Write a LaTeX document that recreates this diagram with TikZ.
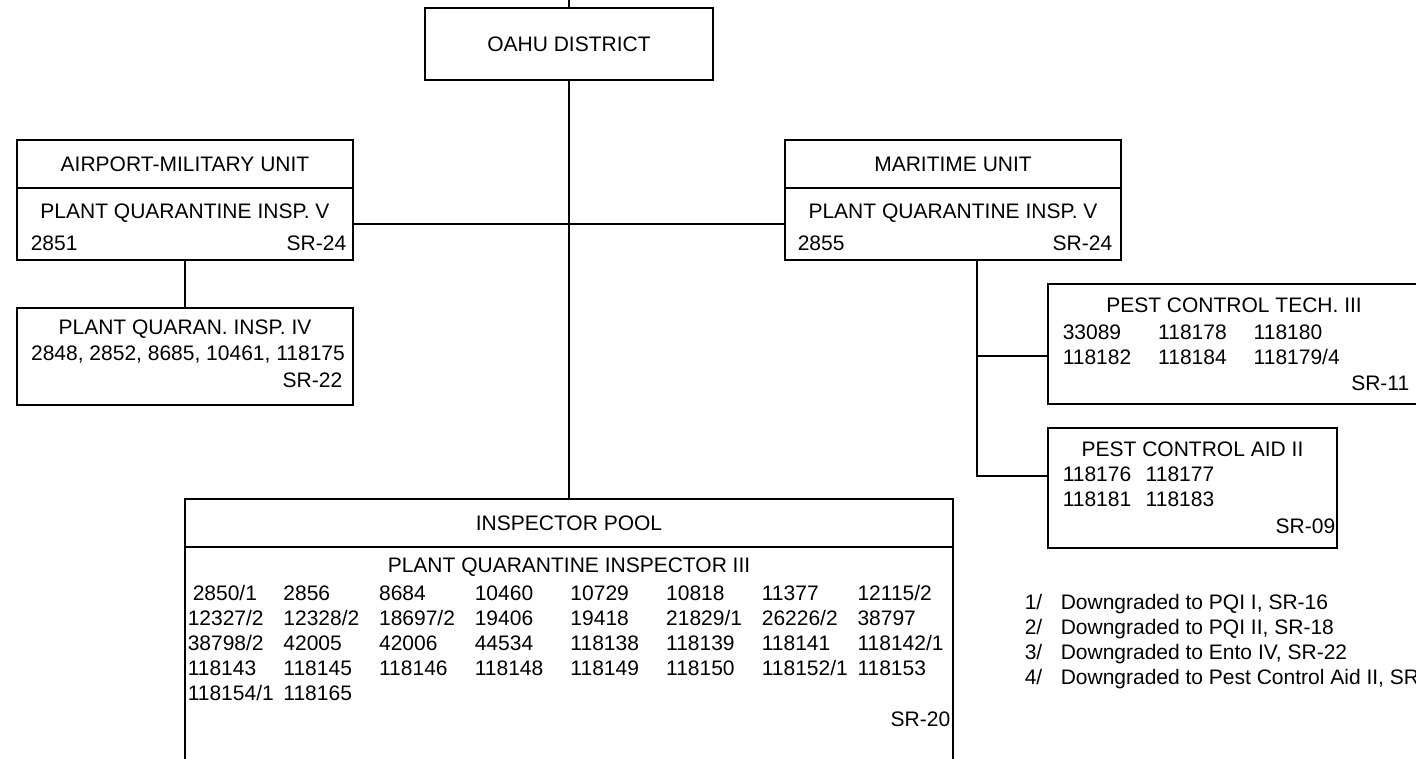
\documentclass[tikz,border=0pt]{standalone}
\usepackage{fontspec}
\setmainfont{Liberation Sans}
\usepackage{array}
\usetikzlibrary{positioning}

\newcommand{\orgfont}{\fontsize{21}{25}\selectfont}

\tikzset{
  unitbox/.style={rectangle, draw, line width=1.5pt, inner sep=0pt, font=\orgfont},
  label txt/.style={inner sep=0pt, font=\orgfont},
}

\begin{document}
\begin{tikzpicture}[x=1pt, y=-1pt, line width=1.5pt]

\useasboundingbox (0,0) rectangle (1416,758);
\fill[white] (0,0) rectangle (1416,758);
\clip (0,0) rectangle (1416,758);

% district
\node[unitbox, minimum width=288, minimum height=72] (oahu) at (569,44) {OAHU DISTRICT};
\coordinate (top) at (569,0);

% airport-military unit
\node[unitbox, minimum width=336, minimum height=48] (airhd) at (185,164) {AIRPORT-MILITARY UNIT};
\node[unitbox, minimum width=336, minimum height=72] (airpos) at (185,224) {};
    \node[label txt, anchor=base] (airtitle) at (185,218) {PLANT QUARANTINE INSP. V};
    \node[label txt, anchor=base west] (airno) at (30,250) {2851};
    \node[label txt, anchor=base east] (airsr) at (347,250) {SR-24};

\node[unitbox, minimum width=336, minimum height=97] (pqi4) at (185,356.5) {};
    \node[label txt, anchor=base] (pqi4title) at (185,334) {PLANT QUARAN. INSP. IV};
    \node[label txt, anchor=base] (pqi4no) at (188,360) {2848, 2852, 8685, 10461, 118175};
    \node[label txt, anchor=base east] (pqi4sr) at (343,387) {SR-22};

% maritime unit
\node[unitbox, minimum width=336, minimum height=48] (marhd) at (953,164) {MARITIME UNIT};
\node[unitbox, minimum width=336, minimum height=72] (marpos) at (953,224) {};
    \node[label txt, anchor=base] (martitle) at (953,218) {PLANT QUARANTINE INSP. V};
    \node[label txt, anchor=base west] (marno) at (797,250) {2855};
    \node[label txt, anchor=base east] (marsr) at (1113,250) {SR-24};

\node[unitbox, minimum width=372, minimum height=120] (pct) at (1234,344) {};
    \node[label txt, anchor=base] (pcttitle) at (1234,312) {PEST CONTROL TECH. III};
    \node[label txt, anchor=base west] (pctno) at (1062,339)
      {\begin{tabular}[t]{@{}p{95.5pt}@{}p{95.5pt}@{}l@{}}
        33089 & 118178 & 118180\\
        118182 & 118184 & 118179/4
      \end{tabular}};
    \node[label txt, anchor=base east] (pctsr) at (1410,390) {SR-11};

\node[unitbox, minimum width=289, minimum height=120] (pca) at (1192.5,488) {};
    \node[label txt, anchor=base] (pcatitle) at (1192.5,456) {PEST CONTROL AID II};
    \node[label txt, anchor=base west] (pcano) at (1062,481)
      {\begin{tabular}[t]{@{}p{83pt}@{}l@{}}
        118176 & 118177\\
        118181 & 118183
      \end{tabular}};
    \node[label txt, anchor=base east] (pcasr) at (1336,533) {SR-09};

% inspector pool
\node[unitbox, minimum width=768, minimum height=48] (poolhd) at (569,523) {INSPECTOR POOL};
\node[unitbox, minimum width=768, minimum height=253] (poolpos) at (569,673.5) {};
    \node[label txt, anchor=base] (pooltitle) at (569,572) {PLANT QUARANTINE INSPECTOR III};
    \node[label txt, anchor=base west] (poolno) at (187,600)
      {\begin{tabular}[t]{@{}*{7}{p{95.7pt}@{}}l@{}}
        \hspace*{5pt}2850/1 & 2856 & 8684 & 10460 & 10729 & 10818 & 11377 & 12115/2\\
        12327/2 & 12328/2 & 18697/2 & 19406 & 19418 & 21829/1 & 26226/2 & 38797\\
        38798/2 & 42005 & 42006 & 44534 & 118138 & 118139 & 118141 & 118142/1\\
        118143 & 118145 & 118146 & 118148 & 118149 & 118150 & 118152/1 & 118153\\
        118154/1 & 118165
      \end{tabular}};
    \node[label txt, anchor=base east] (poolsr) at (951,726) {SR-20};

% notes
\node[label txt, anchor=base west] (notes) at (1024,609.5)
  {\begin{tabular}[t]{@{}p{36pt}@{}l@{}}
    1/ & Downgraded to PQI I, SR-16\\
    2/ & Downgraded to PQI II, SR-18\\
    3/ & Downgraded to Ento IV, SR-22\\
    4/ & Downgraded to Pest Control Aid II, SR-09
  \end{tabular}};

% lines
\draw (top) -- (oahu.north);
\draw (oahu.south) -- (poolhd.north); %trunk
\draw (airpos.east) -- (marpos.west); %cross
\draw (airpos.south) -- (pqi4.north);
\coordinate (mardrop) at ([xshift=24pt]marpos.south);
\draw (mardrop) |- ([yshift=12pt]pca.west);
\draw ([yshift=-12pt]pct.west) -| (mardrop);

\end{tikzpicture}
\end{document}
